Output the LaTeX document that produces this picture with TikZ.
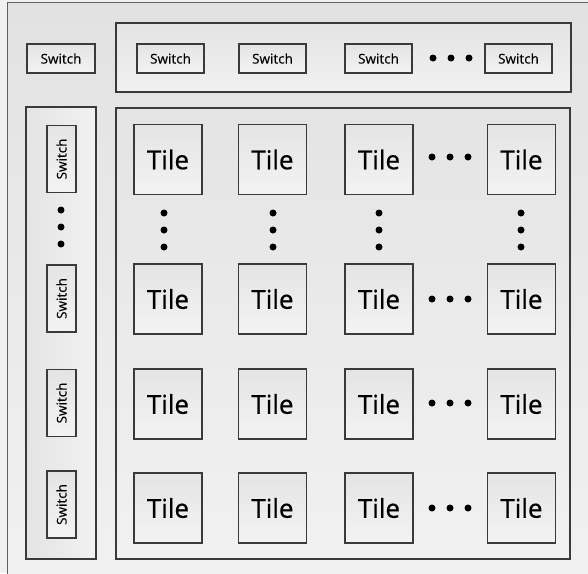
\documentclass[tikz,border=0pt]{standalone}
\usepackage{fontspec}
\setmainfont{Open Sans}
\newfontface\tilefont{Open Sans}[FakeBold=0.6]
\newfontface\swfont{Open Sans}[FakeBold=0.3]
\definecolor{edge}{HTML}{3A3A3A}
\definecolor{bgtop}{HTML}{E2E2E2}
\definecolor{bgbot}{HTML}{F1F1F1}
\definecolor{boxtop}{HTML}{E4E4E4}
\definecolor{boxbot}{HTML}{F3F3F3}
\begin{document}
\begin{tikzpicture}[x=1pt,y=-1pt,
  panel/.style={draw=edge, line width=1.1pt, top color=boxtop, bottom color=bgbot, inner sep=0pt, outer sep=0pt, anchor=north west},
  tile/.style={draw=edge, line width=1.2pt, top color=boxtop, bottom color=boxbot, minimum width=68pt, minimum height=70pt, inner sep=0pt, font=\tilefont\fontsize{26}{30}\selectfont},
  sw/.style={draw=edge, line width=1.1pt, top color=boxtop, bottom color=boxbot, minimum width=67pt, minimum height=29pt, inner sep=0pt, font=\swfont\fontsize{13.5}{16}\selectfont},
  vsw/.style={sw, rotate=90},
  dot/.style={circle, fill=black, inner sep=0pt, minimum size=7pt}]
\useasboundingbox (0,0) rectangle (588,573);
\fill[bgbot] (0,0) rectangle (588,573);
% outer frame
\node[draw=black!62, line width=1.4pt, top color=bgtop, bottom color=bgbot, inner sep=0pt, anchor=north west, minimum width=590pt, minimum height=580pt] (frame) at (7,2) {};
% panels
\node[panel, minimum width=455pt, minimum height=69pt] (topbox) at (116,23) {};
\node[panel, minimum width=70pt, minimum height=452pt, left color=boxtop, right color=bgbot] (leftbox) at (26,107) {};
\node[panel, minimum width=454pt, minimum height=451pt] (mainbox) at (116,108) {};
% switches
\node[sw, minimum width=68pt] (s0) at (61,58.5) {Switch};
\node[sw] (t1) at (170.5,58.5) {Switch};
\node[sw] (t2) at (272.5,58.5) {Switch};
\node[sw] (t3) at (378.5,58.5) {Switch};
\node[sw] (t4) at (518.5,58.5) {Switch};
\node[dot] (td1) at (433,58) {};
\node[dot] (td2) at (451,58) {};
\node[dot] (td3) at (469,58) {};
\node[vsw] (l1) at (61.5,159) {Switch};
\node[vsw] (l2) at (61.5,298.5) {Switch};
\node[vsw] (l3) at (61.5,403) {Switch};
\node[vsw] (l4) at (61.5,504.5) {Switch};
\node[dot] (ld1) at (61,210) {};
\node[dot] (ld2) at (61,227) {};
\node[dot] (ld3) at (61,244) {};
% tiles
\foreach \c/\x in {1/168,2/272.5,3/379,4/521.5}{
  \foreach \r/\y in {1/159.5,2/299,3/404,4/508}{
    \node[tile] (tile\r\c) at (\x,\y) {Tile};
  }
}
% vertical dots between rows 1 and 2
\foreach \c/\x in {1/164,2/273,3/379,4/521}{
  \node[dot] (vd\c a) at (\x,213) {};
  \node[dot] (vd\c b) at (\x,230) {};
  \node[dot] (vd\c c) at (\x,247) {};
}
% horizontal dots between columns 3 and 4
\foreach \r/\y in {1/157,2/299,3/403,4/508}{
  \node[dot] (hd\r a) at (432,\y) {};
  \node[dot] (hd\r b) at (450,\y) {};
  \node[dot] (hd\r c) at (468,\y) {};
}
\end{tikzpicture}
\end{document}
